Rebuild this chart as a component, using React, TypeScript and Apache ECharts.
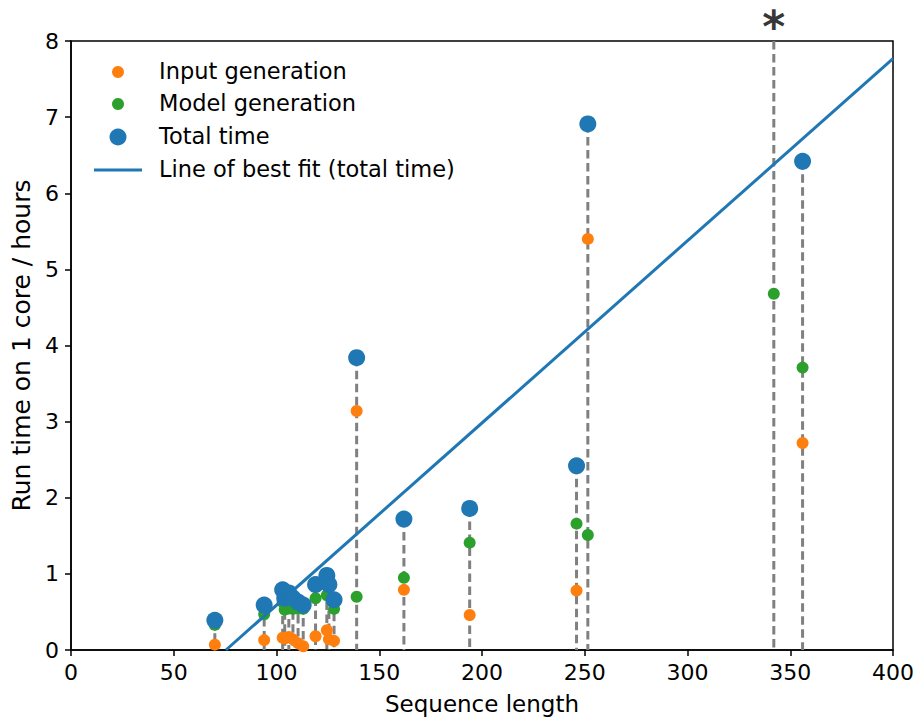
import React, { useEffect, useRef } from "react";
import * as echarts from "echarts";

// Sequence lengths (x) and timings (hours)
const lengths = [70, 94, 103, 104, 106, 108, 110.5, 113, 119, 124.5, 125.5, 128, 139, 162, 194, 246, 251.5, 342, 356];
const inputHours = [0.07, 0.13, 0.16, 0.15, 0.17, 0.14, 0.09, 0.05, 0.18, 0.26, 0.14, 0.12, 3.14, 0.79, 0.46, 0.78, 5.4, null, 2.72];
const modelHours = [0.33, 0.47, 0.63, 0.53, 0.58, 0.54, 0.54, 0.54, 0.68, 0.72, 0.72, 0.54, 0.7, 0.95, 1.41, 1.66, 1.51, 4.68, 3.71];
const totalHours = [0.39, 0.59, 0.79, 0.68, 0.75, 0.68, 0.63, 0.59, 0.86, 0.98, 0.86, 0.66, 3.84, 1.72, 1.86, 2.42, 6.91, null, 6.42];

// Line of best fit (total time), end points
const fitX = [75.4, 400];
const fitY = [0, 7.77];

const xTicks = [0, 400, 50];
const yTicks = [0, 8, 1];

const legendLabels = ["Input generation", "Model generation", "Total time", "Line of best fit (total time)"];

const BLUE = "#1f77b4";
const ORANGE = "#ff7f0e";
const GREEN = "#2ca02c";
const FONT = "DejaVu Sans";

export default function App() {
  const ref = useRef<HTMLDivElement>(null);
  useEffect(() => {
    if (!ref.current) return;
    const chart = echarts.init(ref.current, null, { renderer: "svg" });
    const yMax = yTicks[1];
    const pair = (ys: (number | null)[]) =>
      lengths.map((x, i) => (ys[i] == null ? null : [x, ys[i] as number])).filter((d) => d != null);
    const vlineData = lengths.map((x, i) => [x, totalHours[i] == null ? yMax : (totalHours[i] as number)]);
    const starData = lengths.map((x, i) => (totalHours[i] == null ? [x, yMax] : null)).filter((d) => d != null);
    const fitData = fitX.map((x, i) => [x, fitY[i]]);

    const legendTop = [72, 104, 137, 170];
    const graphics: any[] = [
      { type: "circle", shape: { cx: 118, cy: legendTop[0], r: 6 }, style: { fill: ORANGE } },
      { type: "circle", shape: { cx: 118, cy: legendTop[1], r: 6 }, style: { fill: GREEN } },
      { type: "circle", shape: { cx: 118, cy: legendTop[2], r: 8.5 }, style: { fill: BLUE } },
      { type: "line", shape: { x1: 94, y1: legendTop[3], x2: 142, y2: legendTop[3] }, style: { stroke: BLUE, lineWidth: 3 } },
      ...legendLabels.map((t, i) => ({
        type: "text",
        x: 159,
        y: legendTop[i] - 1,
        style: { text: t, fontSize: 22.5, fontFamily: FONT, fill: "#000", verticalAlign: "middle", align: "left" },
      })),
    ];

    chart.setOption({
      animation: false,
      backgroundColor: "#fff",
      grid: { left: 71, right: 24, top: 41, bottom: 70, show: true, borderColor: "#000", borderWidth: 1.5, backgroundColor: "transparent" },
      xAxis: {
        type: "value",
        min: xTicks[0],
        max: xTicks[1],
        interval: xTicks[2],
        name: "Sequence length",
        nameLocation: "middle",
        nameGap: 42,
        nameTextStyle: { fontSize: 23, fontFamily: FONT, color: "#000" },
        axisLine: { show: true, onZero: false, lineStyle: { color: "#000", width: 1.5 } },
        axisTick: { show: true, inside: false, length: 6, lineStyle: { color: "#000", width: 1.5 } },
        axisLabel: { fontSize: 22, fontFamily: FONT, color: "#000", margin: 11 },
        splitLine: { show: false },
      },
      yAxis: {
        type: "value",
        min: yTicks[0],
        max: yTicks[1],
        interval: yTicks[2],
        name: "Run time on 1 core / hours",
        nameLocation: "middle",
        nameGap: 36,
        nameTextStyle: { fontSize: 25, fontFamily: FONT, color: "#000" },
        axisLine: { show: true, onZero: false, lineStyle: { color: "#000", width: 1.5 } },
        axisTick: { show: true, inside: false, length: 6, lineStyle: { color: "#000", width: 1.5 } },
        axisLabel: { fontSize: 22, fontFamily: FONT, color: "#000", margin: 12 },
        splitLine: { show: false },
      },
      series: [
        {
          type: "custom",
          z: 1,
          data: vlineData,
          clip: false,
          renderItem: (params: any, api: any) => {
            const x = api.value(0);
            const top = api.coord([x, api.value(1)]);
            const bottom = api.coord([x, 0]);
            return {
              type: "line",
              shape: { x1: top[0], y1: top[1], x2: bottom[0], y2: bottom[1] },
              style: { stroke: "#808080", lineWidth: 3, lineDash: [8.5, 4.5] },
            };
          },
        },
        { type: "scatter", name: legendLabels[0], z: 2, data: pair(inputHours), symbolSize: 12, itemStyle: { color: ORANGE, opacity: 1 } },
        { type: "scatter", name: legendLabels[1], z: 3, data: pair(modelHours), symbolSize: 12, itemStyle: { color: GREEN, opacity: 1 } },
        { type: "scatter", name: legendLabels[2], z: 4, data: pair(totalHours), symbolSize: 17, itemStyle: { color: BLUE, opacity: 1 } },
        {
          type: "line",
          name: legendLabels[3],
          z: 5,
          data: fitData,
          showSymbol: false,
          symbol: "none",
          lineStyle: { color: BLUE, width: 3 },
        },
        {
          type: "scatter",
          z: 6,
          data: starData,
          symbolSize: 0,
          clip: false,
          silent: true,
          label: {
            show: true,
            formatter: "*",
            position: "inside",
            offset: [0, -15],
            fontSize: 44,
            fontWeight: "bold",
            fontFamily: FONT,
            color: "#000",
          },
        },
      ],
      graphic: graphics,
    });
    return () => chart.dispose();
  }, []);
  return <div ref={ref} style={{ position: "fixed", left: 0, top: 0, width: 917, height: 720 }} />;
}
